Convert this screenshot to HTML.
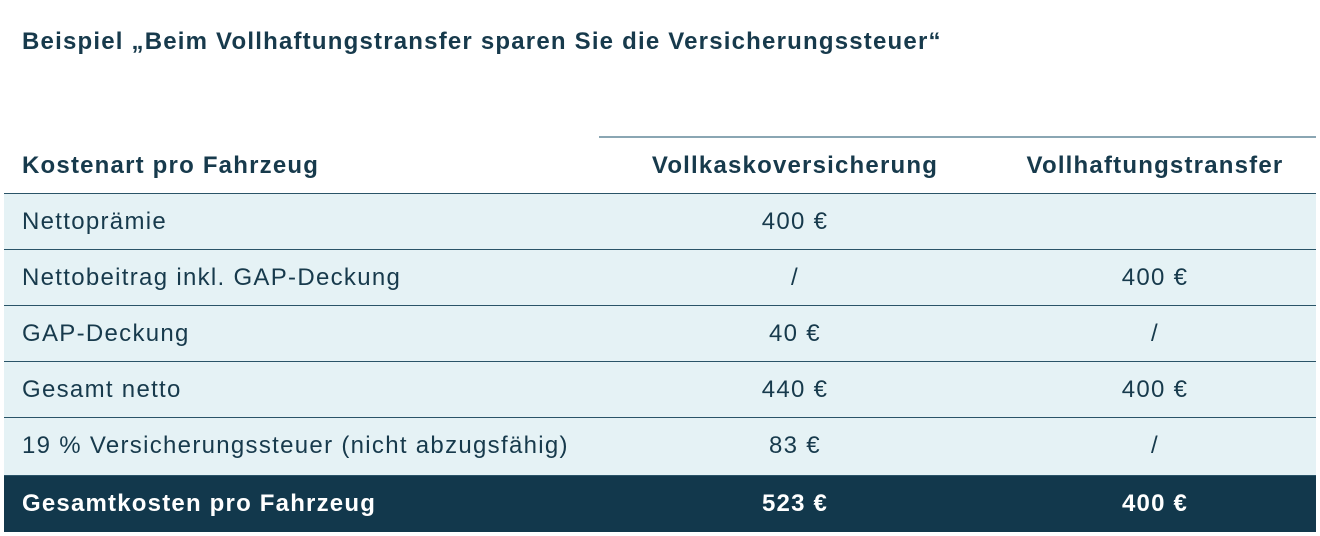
<!DOCTYPE html>
<html><head><meta charset="utf-8"><style>
body{margin:0;width:1320px;height:536px;background:#fff;font-family:"Liberation Sans",sans-serif;color:#173a4c;position:relative;overflow:hidden}
.t{position:absolute;left:22px;top:28px;font-size:24px;letter-spacing:1.2px;font-weight:bold;color:#173a4c}
.top{position:absolute;left:599px;top:136px;width:717px;height:2px;background:#8aa6b3}
.row{position:absolute;left:4px;width:1312px;height:56px;border-bottom:1px solid #2a5468;box-sizing:border-box}
.row div{position:absolute;top:0;line-height:56px;font-size:24px;letter-spacing:1.3px;white-space:nowrap}
.c1{left:18px}.c2{left:591px;width:400px;text-align:center}.c3{left:951px;width:400px;text-align:center}
.b div{font-weight:bold;letter-spacing:1.2px}
.d{background:#e5f2f5}
.dark{background:#12384c;color:#fff;border:none}
</style></head><body>
<div class="t">Beispiel „Beim Vollhaftungstransfer sparen Sie die Versicherungssteuer“</div>
<div class="top"></div>
<div class="row b" style="top:138px"><div class="c1">Kostenart pro Fahrzeug</div><div class="c2">Vollkaskoversicherung</div><div class="c3">Vollhaftungstransfer</div></div>
<div class="row d" style="top:194px"><div class="c1">Nettoprämie</div><div class="c2">400 €</div><div class="c3"></div></div>
<div class="row d" style="top:250px"><div class="c1">Nettobeitrag inkl. GAP-Deckung</div><div class="c2">/</div><div class="c3">400 €</div></div>
<div class="row d" style="top:306px"><div class="c1">GAP-Deckung</div><div class="c2">40 €</div><div class="c3">/</div></div>
<div class="row d" style="top:362px"><div class="c1">Gesamt netto</div><div class="c2">440 €</div><div class="c3">400 €</div></div>
<div class="row d" style="top:418px;height:58px"><div class="c1">19 % Versicherungssteuer (nicht abzugsfähig)</div><div class="c2">83 €</div><div class="c3">/</div></div>
<div class="row b dark" style="top:476px"><div class="c1">Gesamtkosten pro Fahrzeug</div><div class="c2">523 €</div><div class="c3">400 €</div></div>
</body></html>
